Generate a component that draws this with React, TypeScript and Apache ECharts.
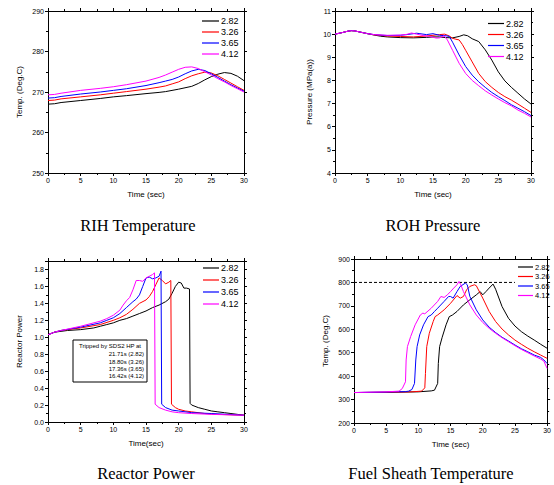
import React, { useEffect, useRef } from "react";
import * as echarts from "echarts";

const caseNames = ["2.82", "3.26", "3.65", "4.12"];
const caseColors = ["#000000", "#ff0000", "#0000ff", "#ff00ff"];
const captions = ["RIH Temperature", "ROH Pressure", "Reactor Power", "Fuel Sheath Temperature"];
const tripNote = ["Tripped by SDS2 HP at", "21.71s (2.82)", "18.80s (3.26)", "17.36s (3.65)", "16.42s (4.12)"];

// RIH temperature (Deg.C)
const rih282 = [[0,267.0],[1,267.1],[2,267.4],[5,267.9],[8,268.4],[10,268.8],[12,269.1],[15,269.6],[17,269.9],[18,270.1],[20,270.7],[22,271.4],[23,272.1],[24,273.0],[25,273.8],[26,274.4],[27,274.8],[28,274.6],[29,273.9],[30,272.8]];
const rih326 = [[0,267.9],[1,268.0],[2,268.3],[5,268.8],[8,269.3],[10,269.7],[12,270.1],[15,270.7],[17,271.2],[18,271.5],[19,272.0],[20,272.5],[21,273.3],[22,274.0],[23,274.5],[24,274.9],[25,274.7],[26,274.0],[27,273.1],[28,272.2],[29,271.3],[30,270.4]];
const rih365 = [[0,268.5],[1,268.6],[2,268.9],[5,269.5],[8,270.0],[10,270.4],[12,270.8],[15,271.6],[17,272.3],[18,272.7],[19,273.1],[20,273.7],[21,274.5],[22,275.2],[23,275.6],[24,275.3],[25,274.5],[26,273.6],[27,272.7],[28,271.8],[29,271.0],[30,270.2]];
const rih412 = [[0,269.3],[1,269.4],[2,269.7],[5,270.4],[8,270.9],[10,271.3],[12,271.8],[15,272.7],[17,273.6],[18,274.2],[19,274.9],[20,275.6],[21,276.1],[22,276.2],[23,275.8],[24,275.0],[25,274.2],[26,273.3],[27,272.5],[28,271.6],[29,270.8],[30,270.0]];

// ROH pressure (MPa(a))
const roh282 = [[0,10.0],[1,10.06],[2,10.13],[2.5,10.15],[3,10.14],[4,10.08],[5,10.02],[6,9.96],[7,9.91],[8,9.88],[10,9.85],[12,9.84],[14,9.86],[15,9.88],[16,9.88],[17,9.85],[18,9.84],[19,9.9],[19.7,9.97],[20.3,9.93],[21,9.8],[22,9.68],[23,9.32],[24,8.88],[25,8.37],[26,7.98],[27,7.7],[28,7.45],[29,7.2],[30,6.98]];
const roh326 = [[0,10.0],[1,10.06],[2,10.13],[2.5,10.15],[3,10.14],[4,10.08],[5,10.02],[6,9.97],[8,9.92],[10,9.9],[12,9.88],[13,9.9],[14,9.92],[15,9.95],[16,9.98],[16.8,10.0],[17.5,9.92],[18,9.82],[18.5,9.78],[19,9.75],[19.5,9.55],[20,9.3],[21,8.8],[22,8.3],[23,7.95],[24,7.7],[25,7.48],[26,7.3],[27,7.15],[28,6.98],[29,6.8],[30,6.62]];
const roh365 = [[0,10.0],[1,10.06],[2,10.13],[2.5,10.15],[3,10.14],[4,10.08],[5,10.02],[6,9.98],[8,9.94],[10,9.95],[11,9.98],[12,10.02],[12.5,10.04],[13,10.02],[14,9.98],[15,10.02],[16,9.95],[17,9.93],[17.5,9.9],[18,9.65],[19,9.1],[20,8.6],[21,8.23],[22,7.94],[23,7.7],[24,7.48],[25,7.3],[26,7.13],[27,6.95],[28,6.8],[29,6.65],[30,6.48]];
const roh412 = [[0,10.0],[1,10.06],[2,10.13],[2.5,10.15],[3,10.14],[4,10.08],[5,10.02],[6,9.98],[8,9.95],[10,9.96],[11,9.99],[11.7,10.05],[12.5,10.0],[13.5,9.94],[14.5,9.9],[15.5,9.83],[16,9.84],[16.7,9.93],[17.2,9.75],[18,9.3],[19,8.74],[20,8.3],[21,8.0],[22,7.77],[23,7.55],[24,7.37],[25,7.2],[26,7.04],[27,6.9],[28,6.72],[29,6.58],[30,6.42]];

// Reactor power (normalised)
const pow282 = [[0,1.03],[1,1.06],[2,1.07],[3,1.08],[5,1.09],[7,1.11],[8,1.13],[9,1.15],[10,1.17],[11,1.2],[12,1.22],[13,1.25],[14,1.28],[15,1.31],[16,1.35],[17,1.38],[18,1.42],[18.5,1.45],[19,1.52],[19.5,1.6],[20,1.65],[20.4,1.64],[20.8,1.58],[21.2,1.58],[21.66,1.57],[21.75,0.22],[22,0.2],[23,0.17],[24,0.15],[25,0.13],[26,0.12],[27,0.11],[28,0.1],[29,0.09],[30,0.08]];
const pow326 = [[0,1.03],[1,1.06],[2,1.08],[5,1.11],[8,1.15],[10,1.2],[11,1.23],[12,1.27],[13,1.33],[14,1.4],[15,1.44],[15.5,1.48],[16,1.54],[16.5,1.62],[17,1.7],[17.5,1.67],[18,1.63],[18.5,1.65],[18.8,1.67],[18.9,0.21],[19.5,0.17],[20,0.15],[21,0.13],[22,0.12],[24,0.1],[26,0.09],[30,0.08]];
const pow365 = [[0,1.03],[1,1.06],[2,1.08],[5,1.12],[8,1.17],[9,1.2],[10,1.23],[11,1.28],[12,1.35],[13,1.42],[13.5,1.45],[14,1.5],[14.5,1.6],[15,1.7],[15.5,1.71],[16,1.69],[16.5,1.7],[17,1.72],[17.3,1.78],[17.4,0.21],[18,0.17],[19,0.14],[20,0.13],[22,0.11],[25,0.1],[30,0.08]];
const pow412 = [[0,1.03],[1,1.06],[2,1.08],[5,1.13],[8,1.19],[9,1.22],[10,1.26],[11,1.32],[11.5,1.38],[12,1.43],[12.5,1.47],[13,1.56],[13.5,1.67],[14,1.67],[14.5,1.66],[15,1.7],[15.5,1.72],[16,1.74],[16.3,1.76],[16.4,0.21],[17,0.17],[18,0.14],[19,0.12],[20,0.11],[22,0.1],[25,0.09],[30,0.08]];

// Fuel sheath temperature (Deg.C)
const fst282 = [[0,330],[5,331],[10,333],[12,337],[12.5,340],[13,369],[13.1,454],[13.3,526],[13.7,566],[14.3,619],[14.8,654],[15.3,661],[16,676],[17,704],[18,726],[19,747],[19.6,761],[20,747],[20.5,761],[21,776],[21.6,793],[22,771],[23,697],[24,647],[25,614],[26,590],[27,571],[28,554],[29,536],[30,519]];
const fst326 = [[0,330],[5,331],[9,333],[10.5,336],[11,350],[11.1,411],[11.3,526],[11.7,583],[12.3,633],[12.6,654],[13,661],[14,683],[15,711],[16,744],[16.5,733],[17,740],[17.5,769],[18,783],[18.7,790],[19,786],[20,733],[21,676],[22,633],[23,601],[24,576],[25,554],[26,536],[27,519],[28,504],[29,490],[29.5,483],[30,476]];
const fst365 = [[0,330],[5,332],[8,334],[8.5,336],[9,343],[9.4,369],[9.6,469],[9.8,526],[10.2,576],[10.8,619],[11.5,654],[12,661],[12.5,676],[13,690],[14,719],[14.7,740],[15,740],[15.4,733],[16,761],[16.5,783],[17.3,797],[17.6,790],[18,740],[19,683],[20,640],[21,609],[22,586],[23,566],[24,550],[25,533],[26,517],[27,504],[28,490],[29,480],[29.5,469],[30,454]];
const fst412 = [[0,330],[5,333],[7,336],[7.5,347],[8,376],[8.1,469],[8.3,526],[8.8,569],[9.5,619],[10.3,661],[10.7,669],[11,666],[12,690],[13,719],[13.5,740],[14,736],[14.5,747],[15,761],[15.5,776],[16,790],[16.3,804],[16.6,790],[17,761],[18,704],[19,661],[20,629],[21,604],[22,583],[23,564],[24,547],[25,530],[26,514],[27,500],[28,486],[29,473],[29.5,464],[30,433]];

const sheathLimit = 800;
const limitEnd = 25;

const panelData = [
  [rih282, rih326, rih365, rih412],
  [roh282, roh326, roh365, roh412],
  [pow282, pow326, pow365, pow412],
  [fst282, fst326, fst365, fst412],
];

const SANS = "Liberation Sans, Arial, sans-serif";
const SERIF = "Liberation Serif, Times New Roman, serif";

function buildOption() {
  const grids = [
    { left: 48, top: 11, width: 196, height: 162 },
    { left: 335, top: 11, width: 196, height: 162 },
    { left: 48, top: 261, width: 196, height: 161 },
    { left: 354, top: 259, width: 196, height: 164 },
  ];
  const yCfg = [
    { min: 250, max: 290, interval: 10, name: "Temp. (Deg.C)", gap: 25, fmt: (v: number) => String(v) },
    { min: 4, max: 11, interval: 1, name: "Pressure (MPa(a))", gap: 22, fmt: (v: number) => String(v) },
    { min: 0, max: 1.9, interval: 0.2, name: "Reactor Power", gap: 25, fmt: (v: number) => v.toFixed(1) },
    { min: 200, max: 900, interval: 100, name: "Temp. (Deg.C)", gap: 25, fmt: (v: number) => String(v) },
  ];
  const xNames = ["Time (sec)", "Time (sec)", "Time(sec)", "Time (sec)"];
  const axisLine = { show: true, onZero: false, lineStyle: { color: "#000", width: 1 } };
  const tick = { show: true, inside: false, length: 3, lineStyle: { color: "#000", width: 1 } };
  const minor = { show: true, splitNumber: 2, length: 2, lineStyle: { color: "#000", width: 1 } };
  const xAxis: any[] = [];
  const yAxis: any[] = [];
  grids.forEach((_, i) => {
    const base = { type: "value", gridIndex: i, min: 0, max: 30, interval: 5, axisLine, axisTick: tick, minorTick: minor, splitLine: { show: false } };
    xAxis.push({
      ...base, position: "bottom",
      axisLabel: { fontSize: 7, color: "#000", fontFamily: SANS, margin: 4 },
      name: xNames[i], nameLocation: "middle", nameGap: 17,
      nameTextStyle: { fontSize: 8, color: "#000", fontFamily: SANS },
    });
    xAxis.push({ ...base, position: "top", axisLabel: { show: false } });
    const c = yCfg[i];
    const ybase = { type: "value", gridIndex: i, min: c.min, max: c.max, interval: c.interval, axisLine, axisTick: tick, minorTick: minor, splitLine: { show: false } };
    yAxis.push({
      ...ybase, position: "left",
      axisLabel: { fontSize: 7, color: "#000", fontFamily: SANS, margin: 4, formatter: c.fmt, showMaxLabel: i === 2 ? false : true },
      name: c.name, nameLocation: "middle", nameGap: c.gap,
      nameTextStyle: { fontSize: 8, color: "#000", fontFamily: SANS },
    });
    yAxis.push({ ...ybase, position: "right", axisLabel: { show: false } });
  });

  const series: any[] = [];
  panelData.forEach((cases, p) => {
    cases.forEach((data, k) => {
      series.push({
        type: "line", name: caseNames[k], xAxisIndex: p * 2, yAxisIndex: p * 2,
        data, symbol: "none", showSymbol: false, smooth: false,
        lineStyle: { color: caseColors[k], width: 1 }, itemStyle: { color: caseColors[k] },
        z: 3 + k,
      });
    });
  });
  series.push({
    type: "line", name: "limit", xAxisIndex: 6, yAxisIndex: 6,
    data: [[0, sheathLimit], [limitEnd, sheathLimit]], symbol: "none",
    lineStyle: { color: "#000", width: 1, type: [3, 2] }, z: 2,
  });

  const legendPos = [
    { left: 202, top: 16.5, gap: 2, fs: 9, w: 17 },
    { left: 488, top: 19, gap: 2, fs: 9, w: 16 },
    { left: 203, top: 263.5, gap: 3, fs: 9, w: 16 },
    { left: 518, top: 263, gap: 1.5, fs: 7.5, w: 15 },
  ];
  const legend = legendPos.map((l) => ({
    data: caseNames, orient: "vertical", left: l.left, top: l.top, padding: 0,
    icon: "rect", itemWidth: l.w, itemHeight: 1.2, itemGap: l.gap, selectedMode: false,
    textStyle: { fontSize: l.fs, lineHeight: l.fs, color: "#000", fontFamily: SANS, padding: [0, 0, 0, -3] },
  }));

  const captionPos = [[138, 225], [433, 225], [146, 473], [431, 473]];
  const graphic: any[] = captions.map((t, i) => ({
    type: "text", x: captionPos[i][0], y: captionPos[i][1],
    style: { text: t, font: `16.5px ${SERIF}`, fill: "#000", textAlign: "center", textVerticalAlign: "middle" },
  }));
  graphic.push({
    type: "rect", shape: { x: 73, y: 340, width: 74, height: 42 },
    style: { fill: "#fff", stroke: "#000", lineWidth: 1 }, z: 10,
  });
  const noteY = [346, 354, 361.5, 369, 376];
  tripNote.forEach((t, i) => {
    graphic.push({
      type: "text", x: i === 0 ? 79 : 144, y: noteY[i], z: 11,
      style: { text: t, font: `6px ${SANS}`, fill: "#000", textAlign: i === 0 ? "left" : "right", textVerticalAlign: "middle" },
    });
  });

  return {
    animation: false,
    backgroundColor: "#fff",
    grid: grids,
    xAxis, yAxis, series, legend, graphic,
  };
}

export default function App() {
  const ref = useRef<HTMLDivElement>(null);
  useEffect(() => {
    if (!ref.current) return;
    const chart = echarts.init(ref.current, null, { renderer: "svg" });
    chart.setOption(buildOption() as any);
    return () => chart.dispose();
  }, []);
  return <div ref={ref} style={{ position: "fixed", left: 0, top: 0, width: 554, height: 485, background: "#fff" }} />;
}
